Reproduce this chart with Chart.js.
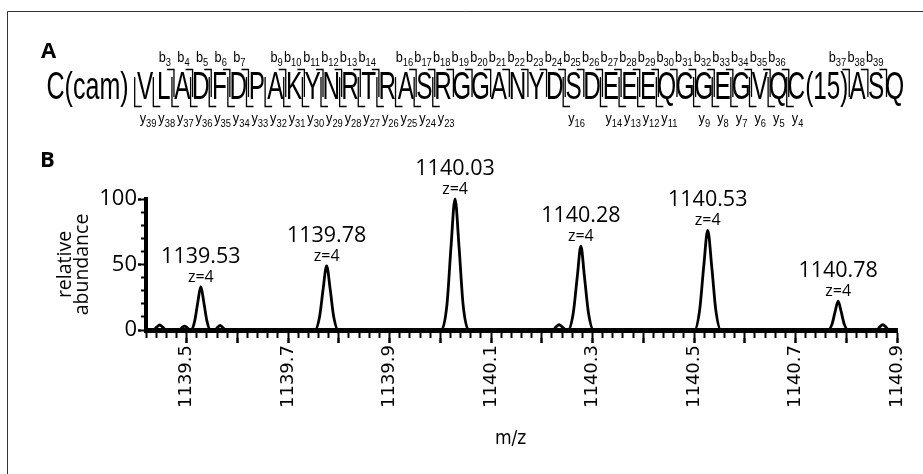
<!DOCTYPE html>
<html>
<head>
<meta charset="utf-8">
<script src="https://cdn.jsdelivr.net/npm/chart.js@4.4.1/dist/chart.umd.min.js"></script>
<style>
  html, body { margin: 0; padding: 0; background: #fff; }
  #wrap { position: relative; width: 923px; height: 474px; }
</style>
</head>
<body>
<div id="wrap"><canvas id="spectrum"></canvas></div>
<script>
// Panel A: peptide sequence and observed fragment ions
const residues = ['C(cam)', 'V', 'L', 'A', 'D', 'F', 'D', 'P', 'A', 'K', 'Y', 'N', 'R', 'T', 'R', 'A', 'S', 'R', 'G', 'G',
                  'A', 'N', 'Y', 'D', 'S', 'D', 'E', 'E', 'E', 'Q', 'G', 'G', 'E', 'G', 'V', 'Q', 'C(15)', 'A', 'S', 'Q'];
const bIons = [3, 4, 5, 6, 7, 9, 10, 11, 12, 13, 14, 16, 17, 18, 19, 20, 21, 22, 23, 24, 25, 26, 27, 28, 29, 30,
               31, 32, 33, 34, 35, 36, 37, 38, 39];
const yIons = [39, 38, 37, 36, 35, 34, 33, 32, 31, 30, 29, 28, 27, 26, 25, 24, 23, 16, 14, 13, 12, 11, 9, 8, 7, 6, 5, 4];

// Panel B: isotope envelope (profile)
const mz = [1139.420, 1139.435, 1139.441, 1139.447, 1139.453, 1139.459,
            1139.486, 1139.491, 1139.496, 1139.501, 1139.506,
            1139.510, 1139.516, 1139.522, 1139.528, 1139.534, 1139.540, 1139.547,
            1139.556, 1139.561, 1139.566, 1139.571, 1139.578,
            1139.753, 1139.762, 1139.769, 1139.776, 1139.783, 1139.790, 1139.799,
            1140.002, 1140.013, 1140.021, 1140.029, 1140.037, 1140.045, 1140.056,
            1140.222, 1140.228, 1140.234, 1140.240, 1140.247,
            1140.252, 1140.262, 1140.270, 1140.277, 1140.284, 1140.292, 1140.302,
            1140.501, 1140.511, 1140.519, 1140.527, 1140.535, 1140.543, 1140.553,
            1140.764, 1140.772, 1140.778, 1140.784, 1140.790, 1140.796, 1140.804,
            1140.860, 1140.866, 1140.872, 1140.878, 1140.884, 1140.900];
const abundance = [0, 0, 2.2, 3.8, 2.2, 0,
                   0, 1.8, 3, 1.8, 0.3,
                   0.5, 7, 21, 33, 21, 7, 0,
                   0, 2, 3.5, 2, 0,
                   0, 10, 31, 49, 31, 10, 0,
                   0, 19, 63, 100, 63, 19, 0,
                   0, 2.4, 4, 2.4, 0.2,
                   0, 13, 41, 64, 41, 13, 0,
                   0, 15, 48, 76, 48, 15, 0,
                   0, 4.5, 14, 22, 14, 4.5, 0,
                   0, 2.4, 4, 2.4, 0, 0];

const peakMz = [1139.528, 1139.776, 1140.029, 1140.277, 1140.527, 1140.784];
const peakAbundance = [33, 49, 100, 64, 76, 22];
const peakLabels = ['1139.53', '1139.78', '1140.03', '1140.28', '1140.53', '1140.78'];
const peakCharge = ['z=4', 'z=4', 'z=4', 'z=4', 'z=4', 'z=4'];

const xTickLabels = ['1139.5', '1139.7', '1139.9', '1140.1', '1140.3', '1140.5', '1140.7', '1140.9'];
const yTickLabels = ['0', '50', '100'];

const X_MIN = 1139.42, X_MAX = 1140.9;

// draws text squeezed horizontally (the figure uses a narrow face)
function squeezed(ctx, text, x, y, sx, align) {
    ctx.save();
    ctx.translate(x, y);
    ctx.scale(sx, 1);
    ctx.textAlign = align;
    ctx.fillText(text, 0, 0);
    ctx.restore();
}

// ion label like b12 / y39 with subscript number
function ionLabel(ctx, letter, num, x, y, align) {
    const sx = 0.85;
    ctx.font = '15px "Liberation Sans"';
    const w1 = ctx.measureText(letter).width * sx;
    ctx.font = '11px "Liberation Sans"';
    const w2 = ctx.measureText(String(num)).width * sx;
    const left = align === 'right' ? x - w1 - w2 : x;
    ctx.font = '15px "Liberation Sans"';
    squeezed(ctx, letter, left, y, sx, 'left');
    ctx.font = '11px "Liberation Sans"';
    squeezed(ctx, String(num), left + w1, y + 4, sx, 'left');
}

const panelPlugin = {
    id: 'panels',
    afterDraw(chart) {
        const ctx = chart.ctx;
        ctx.save();

        // frame
        ctx.strokeStyle = '#333';
        ctx.lineWidth = 1;
        ctx.beginPath();
        ctx.moveTo(7.5, 474);
        ctx.lineTo(7.5, 11.5);
        ctx.lineTo(923, 11.5);
        ctx.stroke();

        ctx.fillStyle = '#000';
        ctx.textBaseline = 'alphabetic';
        ctx.font = 'bold 22px "Open Sans"';
        ctx.textAlign = 'left';
        ctx.fillText('A', 41, 58);
        ctx.fillText('B', 40, 167);

        // sequence layout
        const pitch = 18.63;
        const bnd = [];
        bnd[1] = 135.7;
        for (let n = 2; n <= 40; n++) {
            bnd[n] = bnd[n - 1] + (residues[n - 1] === 'C(15)' ? 60.5 : pitch);
        }
        ctx.font = '38px "Liberation Sans"';
        residues.forEach((r, i) => {
            const n = i + 1;
            if (n === 1) {
                squeezed(ctx, r, bnd[1] - 7, 98.5, 0.66, 'right');
            } else {
                squeezed(ctx, r, (bnd[n - 1] + bnd[n]) / 2, 98.5, 0.64, 'center');
            }
        });

        ctx.strokeStyle = '#000';
        ctx.lineWidth = 1.3;
        bIons.forEach(n => {
            const x = bnd[n] + 1;
            ctx.beginPath();
            ctx.moveTo(x - 7, 69.5);
            ctx.lineTo(x, 69.5);
            ctx.lineTo(x, 97);
            ctx.stroke();
            ionLabel(ctx, 'b', n, bnd[n] - 2, 62, 'right');
        });
        yIons.forEach(n => {
            const k = 40 - n;
            const x = bnd[k] - 1;
            ctx.beginPath();
            ctx.moveTo(x, 77);
            ctx.lineTo(x, 106.5);
            ctx.lineTo(x + 7, 106.5);
            ctx.stroke();
            ionLabel(ctx, 'y', n, bnd[k] + 4, 123, 'left');
        });

        // peak annotations
        const xs = chart.scales.x, ys = chart.scales.y;
        ctx.textAlign = 'center';
        peakMz.forEach((m, i) => {
            const px = xs.getPixelForValue(m);
            const py = ys.getPixelForValue(peakAbundance[i]);
            ctx.font = '16px "Open Sans"';
            ctx.fillText(peakCharge[i], px, py - 5);
            ctx.font = '21.5px "Open Sans"';
            ctx.fillText(peakLabels[i], px, py - 24);
        });
        ctx.restore();
    }
};

new Chart(document.getElementById('spectrum'), {
    type: 'line',
    data: {
        datasets: [{
            data: mz.map((m, i) => ({ x: m, y: abundance[i] })),
            borderColor: '#000',
            borderWidth: 2.8,
            pointRadius: 0,
            cubicInterpolationMode: 'monotone',
            fill: false,
            clip: false
        }]
    },
    options: {
        responsive: true,
        maintainAspectRatio: false,
        animation: false,
        devicePixelRatio: 1,
        layout: { padding: { left: 50, right: 26, top: 199, bottom: 0 } },
        plugins: { legend: { display: false }, tooltip: { enabled: false } },
        scales: {
            x: {
                type: 'linear', axis: 'x', position: 'bottom', weight: 0,
                min: X_MIN, max: X_MAX,
                ticks: { display: false, stepSize: 0.02, includeBounds: false },
                grid: { drawOnChartArea: false, tickLength: 8, tickWidth: 2, tickColor: '#000' },
                border: { color: '#000', width: 5 },
                afterFit: s => { s.height = 8; }
            },
            xMajor: {
                type: 'linear', axis: 'x', position: 'bottom', weight: 1,
                min: X_MIN, max: X_MAX,
                ticks: {
                    stepSize: 0.1, includeBounds: false, autoSkip: false,
                    maxRotation: 90, minRotation: 90, padding: 2, color: '#000',
                    font: { family: 'DejaVu Sans', size: 18 },
                    callback: v => {
                        const t = v.toFixed(1);
                        return xTickLabels.includes(t) ? t : '';
                    }
                },
                grid: { drawOnChartArea: false, tickLength: 5, tickWidth: 2.5, tickColor: '#000' },
                border: { display: false },
                title: {
                    display: true, text: 'm/z\u2007\u2007', color: '#000',
                    font: { family: 'DejaVu Sans Condensed', size: 19 },
                    padding: { top: 0, bottom: 24 }
                },
                afterFit: s => { s.height = 136; }
            },
            y: {
                type: 'linear', axis: 'y', position: 'left', weight: 0,
                min: 0, max: 100,
                ticks: { display: false, stepSize: 10 },
                grid: { drawOnChartArea: false, tickLength: 5, tickWidth: 2, tickColor: '#000' },
                border: { color: '#000', width: 4 },
                afterFit: s => { s.width = 5; }
            },
            yMajor: {
                type: 'linear', axis: 'y', position: 'left', weight: 1,
                min: 0, max: 100,
                ticks: {
                    stepSize: 50, autoSkip: false, padding: 1, color: '#000',
                    font: { family: 'Open Sans', size: 22 },
                    callback: v => yTickLabels.includes(String(v)) ? String(v) : ''
                },
                grid: { drawOnChartArea: false, tickLength: 3, tickWidth: 2.5, tickColor: '#000' },
                border: { display: false },
                title: {
                    display: true, text: ['relative', 'abundance'], color: '#000',
                    font: { family: 'Open Sans', size: 19.5, lineHeight: 0.85 },
                    padding: { top: 7.5, bottom: 0 }
                },
                afterFit: s => { s.width = 91; }
            }
        }
    },
    plugins: [panelPlugin]
});
</script>
</body>
</html>
